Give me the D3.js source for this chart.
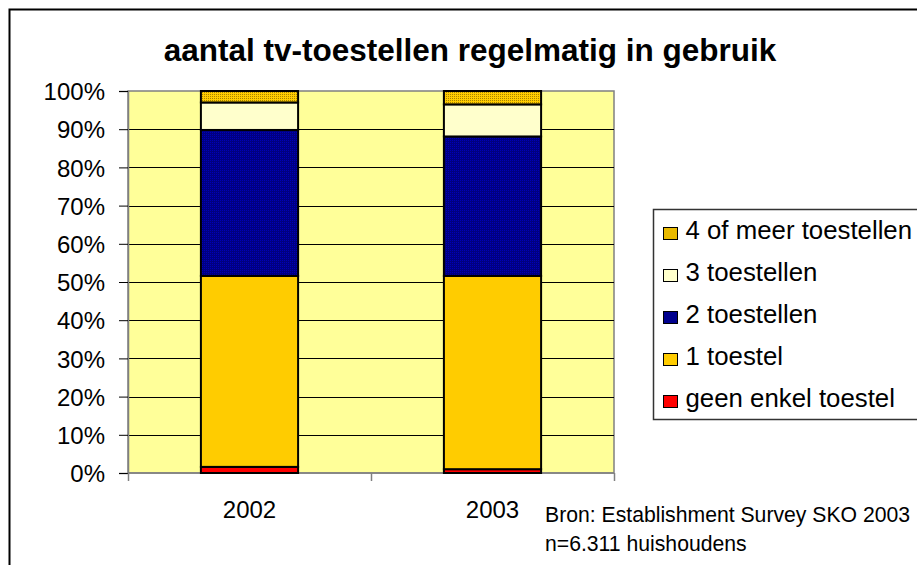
<!DOCTYPE html>
<html>
<head>
<meta charset="utf-8">
<script src="https://cdn.jsdelivr.net/npm/d3@7"></script>
<style>
  html, body { margin: 0; padding: 0; background: #fff; }
  svg { display: block; font-family: "Liberation Sans", Arial, sans-serif; }
</style>
</head>
<body>
<svg id="chart" width="917" height="565"></svg>
<script>
// Categories (years)
const years = ["2002", "2003"];
// Series, bottom to top of each stack (shares in %)
const seriesNames = ["geen enkel toestel", "1 toestel", "2 toestellen", "3 toestellen", "4 of meer toestellen"];
const geenEnkel = [1.6, 1.0];
const eenToestel = [50.0, 50.6];
const tweeToestellen = [38.2, 36.5];
const drieToestellen = [7.2, 8.4];
const vierOfMeer = [3.0, 3.5];
// Y tick labels
const yTicks = [0, 10, 20, 30, 40, 50, 60, 70, 80, 90, 100];

const seriesValues = [geenEnkel, eenToestel, tweeToestellen, drieToestellen, vierOfMeer];
const fills = ["#FF0000", "#FFCC00", "url(#navyDots)", "#FFFFCC", "url(#goldDots)"];

const svg = d3.select("#chart");
const plot = { left: 128, right: 614, top: 91, bottom: 473 };

// Patterned fills (Excel style dotted)
const defs = svg.append("defs");
function dotPattern(id, base, dot) {
  const p = defs.append("pattern")
    .attr("id", id)
    .attr("patternUnits", "userSpaceOnUse")
    .attr("width", 2)
    .attr("height", 2);
  p.append("rect").attr("width", 2).attr("height", 2).attr("fill", base);
  p.append("rect").attr("width", 1).attr("height", 1).attr("fill", dot);
}
dotPattern("goldDots", "#FFCC00", "#A88400");
dotPattern("navyDots", "#000080", "#0000B8");

// Outer chart border
svg.append("rect")
  .attr("x", 9.5).attr("y", 9.5)
  .attr("width", 940).attr("height", 600)
  .attr("fill", "none")
  .attr("stroke", "#000")
  .attr("stroke-width", 2);

// Title
svg.append("text")
  .attr("x", 470)
  .attr("y", 61)
  .attr("text-anchor", "middle")
  .attr("font-size", 31.5)
  .attr("font-weight", "bold")
  .text("aantal tv-toestellen regelmatig in gebruik");

// Scales
const x = d3.scaleBand()
  .domain(years)
  .range([plot.left, plot.right])
  .paddingInner(0.6)
  .paddingOuter(0.3);
const xEdges = d3.scaleBand().domain(years).range([plot.left, plot.right]).padding(0);
const y = d3.scaleLinear().domain([0, 100]).range([plot.bottom, plot.top]);

// Plot area
svg.append("rect")
  .attr("x", plot.left).attr("y", plot.top)
  .attr("width", plot.right - plot.left)
  .attr("height", plot.bottom - plot.top)
  .attr("fill", "#FFFF99")
  .attr("stroke", "#808080")
  .attr("stroke-width", 1.5);

// Gridlines
svg.append("g")
  .selectAll("line")
  .data(yTicks.filter((d) => d > 0 && d < 100))
  .join("line")
  .attr("x1", plot.left).attr("x2", plot.right)
  .attr("y1", (d) => Math.round(y(d)) + 0.5)
  .attr("y2", (d) => Math.round(y(d)) + 0.5)
  .attr("stroke", "#000")
  .attr("stroke-width", 1);

// Y axis
const yAxis = svg.append("g")
  .attr("transform", `translate(${plot.left}, 0)`)
  .call(d3.axisLeft(y).tickValues(yTicks).tickFormat((d) => d + "%").tickSize(9).tickPadding(14));
yAxis.select(".domain").attr("stroke", "#808080").attr("stroke-width", 1.5);
yAxis.selectAll(".tick line").attr("stroke", "#000");
yAxis.selectAll(".tick text")
  .attr("font-size", 24)
  .attr("fill", "#000")
  .attr("font-family", "Liberation Sans, Arial, sans-serif")
  .attr("dy", "0.36em");

// X axis line and ticks between categories
const xAxis = svg.append("g");
xAxis.append("line")
  .attr("x1", plot.left).attr("x2", plot.right)
  .attr("y1", plot.bottom).attr("y2", plot.bottom)
  .attr("stroke", "#808080").attr("stroke-width", 1.5);
const edges = years.map((d) => xEdges(d)).concat([plot.right]);
xAxis.selectAll("line.tick")
  .data(edges)
  .join("line")
  .attr("class", "tick")
  .attr("x1", (d) => Math.round(d) + 0.5).attr("x2", (d) => Math.round(d) + 0.5)
  .attr("y1", plot.bottom).attr("y2", plot.bottom + 8)
  .attr("stroke", "#808080").attr("stroke-width", 1.5);
xAxis.selectAll("text")
  .data(years)
  .join("text")
  .attr("x", (d) => x(d) + x.bandwidth() / 2)
  .attr("y", 518)
  .attr("text-anchor", "middle")
  .attr("font-size", 24)
  .text((d) => d);

// Stacked bars
const table = years.map((yr, i) => {
  const row = { year: yr };
  seriesNames.forEach((s, j) => { row[s] = seriesValues[j][i]; });
  return row;
});
const stack = d3.stack().keys(seriesNames)(table);

svg.append("g")
  .selectAll("g")
  .data(stack)
  .join("g")
  .attr("fill", (d, i) => fills[i])
  .selectAll("rect")
  .data((d) => d)
  .join("rect")
  .attr("x", (d) => x(d.data.year))
  .attr("width", x.bandwidth())
  .attr("y", (d) => y(d[1]))
  .attr("height", (d) => y(d[0]) - y(d[1]))
  .attr("stroke", "#000")
  .attr("stroke-width", 2);

// Legend
const legend = svg.append("g").attr("transform", "translate(653.5, 209.5)");
legend.append("rect")
  .attr("width", 300).attr("height", 210)
  .attr("fill", "#fff")
  .attr("stroke", "#333")
  .attr("stroke-width", 1.5);
const legendItems = seriesNames.map((name, i) => ({ name, fill: fills[i] })).reverse();
const item = legend.selectAll("g.item")
  .data(legendItems)
  .join("g")
  .attr("class", "item")
  .attr("transform", (d, i) => `translate(0, ${i * 42})`);
item.append("rect")
  .attr("x", 10).attr("y", 18)
  .attr("width", 14).attr("height", 12)
  .attr("fill", (d) => d.fill)
  .attr("stroke", "#000")
  .attr("stroke-width", 1);
item.append("text")
  .attr("x", 32).attr("y", 29)
  .attr("font-size", 25.8)
  .text((d) => d.name);

// Source note
const note = svg.append("g").attr("font-size", 21.2);
note.append("text").attr("x", 545).attr("y", 522).text("Bron: Establishment Survey SKO 2003");
note.append("text").attr("x", 545).attr("y", 551).text("n=6.311 huishoudens");
</script>
</body>
</html>
